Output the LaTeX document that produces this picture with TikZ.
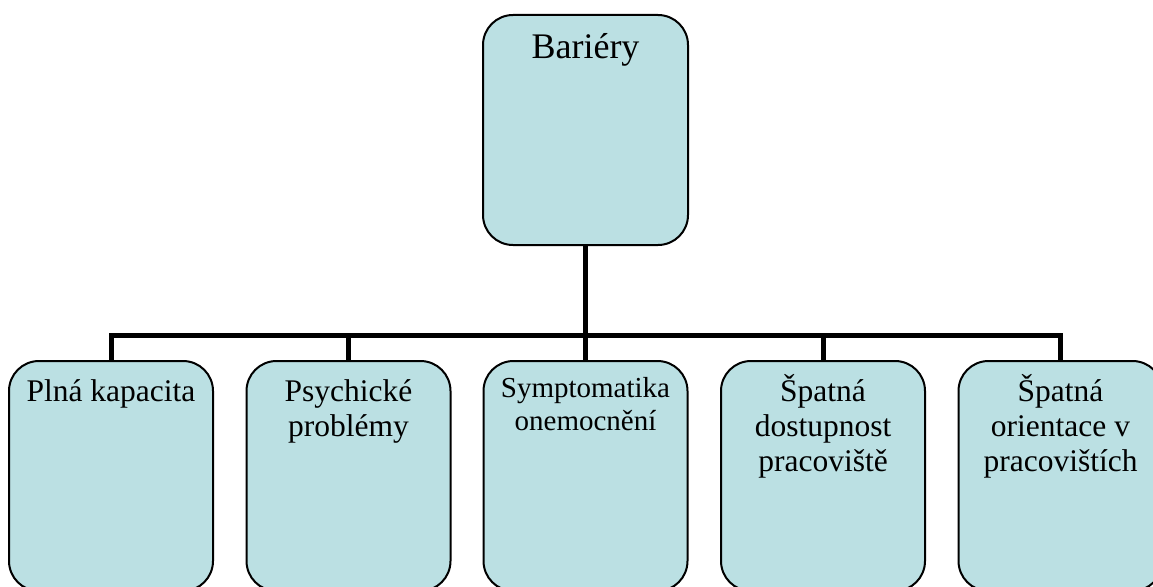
\documentclass[tikz,border=0pt]{standalone}
\usepackage{fontspec}
\setmainfont{Liberation Serif}
\definecolor{boxfill}{RGB}{187,224,227}
\begin{document}
\begin{tikzpicture}[x=1pt,y=-1pt,
  box/.style={draw=black, line width=2pt, fill=boxfill, rounded corners=30pt,
    minimum width=204pt, inner sep=0pt, anchor=north},
  conn/.style={draw=black, line width=5pt, line join=miter, line cap=butt},
  lbl/.style={inner sep=0pt, anchor=base},
  lbltxt/.style={font=\fontsize{31.5}{35}\selectfont}]
  \useasboundingbox (0,0) rectangle (1153,586);
  \clip (0,0) rectangle (1153,586);

  % root box
  \node[box, minimum width=205pt, minimum height=230pt] (top) at (585.5,14) {};
  \node[lbl, font=\fontsize{36}{40}\selectfont] (toptext) at (585.5,59) {Bariéry};

  % child boxes (bottom edge runs just past the page)
  \foreach \i/\cx in {1/111,2/348.5,3/585.5,4/823,5/1060.5}{
    \node[box, minimum height=230pt] (b\i) at (\cx,360) {};
  }

  % labels, first baseline 40pt under the box top
  \node[lbl, lbltxt] (t1) at (111,401)
    {\parbox[t]{204pt}{\centering Plná kapacita}};
  \node[lbl, lbltxt] (t2) at (348.5,401)
    {\parbox[t]{204pt}{\centering Psychické\\problémy}};
  \node[lbl, font=\fontsize{29}{33}\selectfont] (t3) at (585.5,397)
    {\parbox[t]{204pt}{\centering Symptomatika\\onemocnění}};
  \node[lbl, lbltxt] (t4) at (823,401)
    {\parbox[t]{204pt}{\centering Špatná\\dostupnost\\pracoviště}};
  \node[lbl, lbltxt] (t5) at (1060.5,401)
    {\parbox[t]{204pt}{\centering Špatná\\orientace v\\pracovištích}};

  % connector bus
  \coordinate (bus) at (585.5,335);
  \draw[conn] (b1.north) |- (bus) -| (b5.north);
  \draw[conn] (top.south) -- (bus);
  \foreach \i in {2,3,4}{
    \draw[conn] (b\i.north) -- (b\i.north |- bus);
  }
\end{tikzpicture}
\end{document}
